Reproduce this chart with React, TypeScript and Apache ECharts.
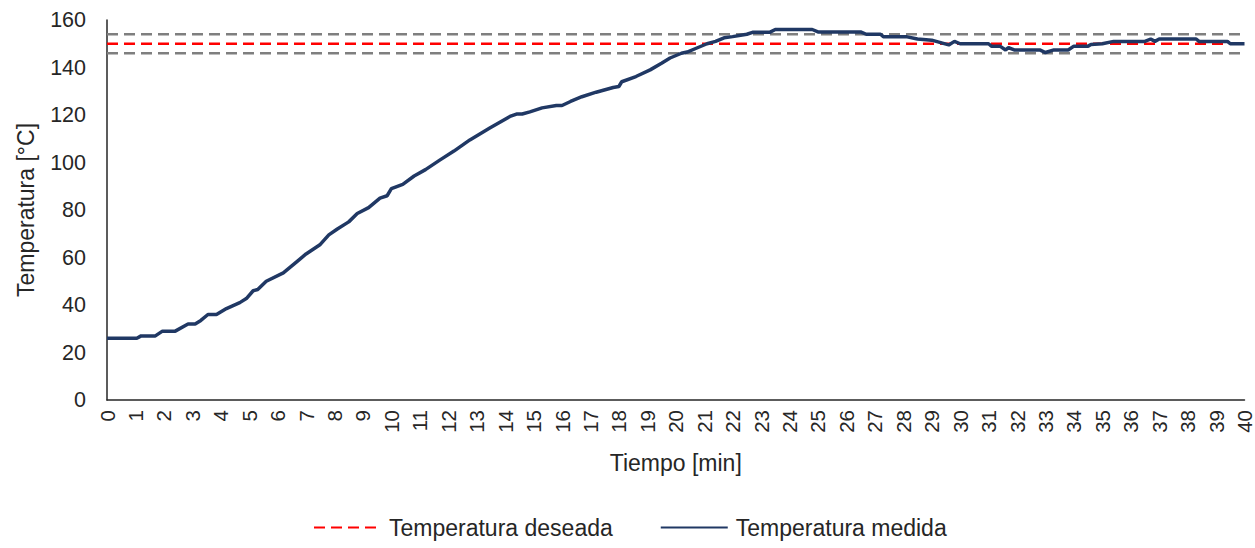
import React, { useEffect, useRef } from "react";
import * as echarts from "echarts";

const times = [
  0, 1.05, 1.2, 1.7, 1.95, 2.4, 2.85, 3.1, 3.3, 3.55, 3.85, 4.2, 4.67, 4.9, 5.14, 5.3, 5.6, 6.2, 6.7, 7.0,
  7.5, 7.8, 8.1, 8.5, 8.8, 9.2, 9.6, 9.85, 10.0, 10.4, 10.8, 11.2, 11.7, 12.2, 12.76, 13.46, 14.17, 14.4, 14.6, 14.87,
  15.3, 15.8, 16.0, 16.3, 16.7, 17.2, 17.8, 18.0, 18.1, 18.6, 19.1, 19.5, 19.8, 20.2, 20.4, 20.7, 21.1, 21.4, 21.7, 22.0,
  22.5, 22.7, 23.3, 23.5, 24.8, 25.0, 26.5, 26.7, 27.2, 27.3, 28.1, 28.5, 29.0, 29.6, 29.8, 30.0, 31.0, 31.1, 31.4, 31.6,
  31.7, 31.9, 32.8, 33.0, 33.3, 33.8, 34.0, 34.5, 34.6, 35.0, 35.4, 36.5, 36.7, 36.85, 37.0, 38.3, 38.4, 39.4, 39.5, 40,
];
const measured = [
  26, 26, 27, 27, 29, 29, 32, 32, 33.5, 36, 36, 38.5, 41, 42.7, 46, 46.5, 50, 53.5, 58.5, 61.5,
  65.5, 69.5, 72, 75, 78.5, 81, 85, 86, 89, 90.8, 94.3, 97, 101, 104.8, 109.5, 114.5, 119.4, 120.4, 120.4, 121.3,
  123, 124, 124, 125.7, 127.7, 129.6, 131.6, 132, 134, 136.2, 139, 141.8, 144, 146, 146.5, 148, 150, 151, 152.5, 153,
  154, 154.8, 154.8, 156, 156, 155, 155, 154, 154, 153, 153, 152, 151.5, 149.5, 151, 150, 150, 149, 149, 147.4,
  148.4, 147.4, 147.4, 146.3, 147.4, 147.4, 149, 149, 149.7, 150, 151, 151, 152, 151, 152, 152, 151, 151, 150, 150,
];
const setpoint = 150;
const bandLow = 146;
const bandHigh = 154;
const timeRange = [0, 40];

const FONT = "'Liberation Sans', Arial, sans-serif";
const TEXT = "#262626";

export default function App() {
  const ref = useRef<HTMLDivElement>(null);
  useEffect(() => {
    if (!ref.current) return;
    const chart = echarts.init(ref.current, null, { renderer: "svg" });
    const measuredData = times.map((t, i) => [t, measured[i]]);
    const flat = (v: number) => timeRange.map((t) => [t, v]);
    chart.setOption({
      animation: false,
      backgroundColor: "#ffffff",
      textStyle: { fontFamily: FONT },
      grid: { left: 107, right: 10, top: 20, bottom: 148, containLabel: false },
      legend: {
        data: ["Temperatura deseada", "Temperatura medida"],
        top: 511,
        left: 308,
        itemWidth: 67,
        itemHeight: 16,
        itemGap: 47,
        itemStyle: { opacity: 0 },
        textStyle: { fontFamily: FONT, fontSize: 23, color: TEXT, padding: [0, 0, 0, 3] },
      },
      xAxis: {
        type: "value",
        min: 0,
        max: 40,
        interval: 1,
        name: "Tiempo [min]",
        nameLocation: "middle",
        nameGap: 51,
        nameTextStyle: { fontFamily: FONT, fontSize: 23, color: TEXT },
        axisLine: { lineStyle: { color: TEXT, width: 1.5 } },
        axisTick: { show: false },
        splitLine: { show: false },
        axisLabel: { rotate: 90, margin: 10, fontSize: 20.5, color: TEXT, fontFamily: FONT },
      },
      yAxis: {
        type: "value",
        min: 0,
        max: 160,
        interval: 20,
        name: "Temperatura [°C]",
        nameLocation: "middle",
        nameGap: 70,
        nameTextStyle: { fontFamily: FONT, fontSize: 23, color: TEXT },
        axisLine: { show: true, lineStyle: { color: TEXT, width: 1.5 } },
        axisTick: { show: false },
        splitLine: { show: false },
        axisLabel: { margin: 21, fontSize: 21.5, color: TEXT, fontFamily: FONT },
      },
      series: [
        {
          name: "Límite superior",
          type: "line",
          data: flat(bandHigh),
          symbol: "none",
          silent: true,
          lineStyle: { color: "#7f7f7f", width: 2.5, type: [11, 6] },
          z: 1,
        },
        {
          name: "Límite inferior",
          type: "line",
          data: flat(bandLow),
          symbol: "none",
          silent: true,
          lineStyle: { color: "#7f7f7f", width: 2.5, type: [11, 6] },
          z: 1,
        },
        {
          name: "Temperatura deseada",
          type: "line",
          data: flat(setpoint),
          symbol: "none",
          color: "#ff0000",
          lineStyle: { color: "#ff0000", width: 2.5, type: [11, 6] },
          z: 2,
        },
        {
          name: "Temperatura medida",
          type: "line",
          data: measuredData,
          symbol: "none",
          color: "#203864",
          lineStyle: { color: "#203864", width: 3.5 },
          z: 3,
        },
      ],
    });
    return () => chart.dispose();
  }, []);
  return (
    <div
      ref={ref}
      style={{ position: "fixed", left: 0, top: 0, width: 1255, height: 548, background: "#fff" }}
    />
  );
}
